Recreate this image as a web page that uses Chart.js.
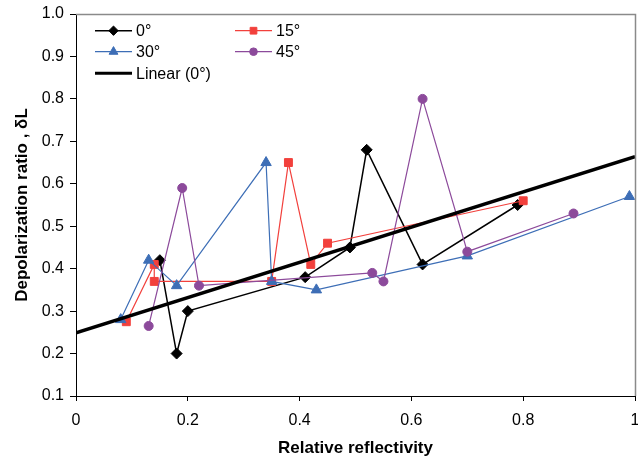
<!DOCTYPE html>
<html>
<head>
<meta charset="utf-8">
<script src="https://cdn.jsdelivr.net/npm/chart.js@4.4.1/dist/chart.umd.min.js"></script>
<style>
  html, body { margin: 0; padding: 0; background: #fff; }
  canvas { display: block; }
</style>
</head>
<body>
<canvas id="chart" width="638" height="461"></canvas>
<script>
// Axis ticks
const xTicks = [0, 0.2, 0.4, 0.6, 0.8, 1];
const yTicks = [0.1, 0.2, 0.3, 0.4, 0.5, 0.6, 0.7, 0.8, 0.9, 1.0];

// Series: relative reflectivity (x) vs depolarization ratio (y)
const x0deg  = [0.15, 0.18, 0.20, 0.41, 0.49, 0.52, 0.62, 0.79];
const y0deg  = [0.42, 0.20, 0.30, 0.38, 0.45, 0.68, 0.41, 0.55];
const x15deg = [0.09, 0.14, 0.14, 0.35, 0.38, 0.42, 0.45, 0.80];
const y15deg = [0.275, 0.41, 0.37, 0.37, 0.65, 0.41, 0.46, 0.56];
const x30deg = [0.08, 0.13, 0.18, 0.34, 0.35, 0.43, 0.70, 0.99];
const y30deg = [0.28, 0.42, 0.36, 0.65, 0.37, 0.35, 0.43, 0.57];
const x45deg = [0.13, 0.19, 0.22, 0.53, 0.55, 0.62, 0.70, 0.89];
const y45deg = [0.265, 0.59, 0.36, 0.39, 0.37, 0.80, 0.44, 0.53];

// Linear trend of the 0° series (end points)
const xTrend = [0, 1];
const yTrend = [0.249, 0.664];

const labels = ['0°', '15°', '30°', '45°', 'Linear (0°)'];

const FONT = "'Liberation Sans', Arial, sans-serif";

const pts = (xs, ys) => xs.map((x, i) => ({ x: x, y: ys[i] }));

const datasets = [
  {
    label: labels[0], data: pts(x0deg, y0deg),
    borderColor: '#000000', backgroundColor: '#000000', borderWidth: 1.5,
    pointStyle: 'rectRot', pointRadius: 5.5, pointBorderWidth: 1, order: 4
  },
  {
    label: labels[1], data: pts(x15deg, y15deg),
    borderColor: '#F2403C', backgroundColor: '#F2403C', borderWidth: 1.2,
    pointStyle: 'rect', pointRadius: 5.6, pointBorderWidth: 1, order: 3
  },
  {
    label: labels[2], data: pts(x30deg, y30deg),
    borderColor: '#3D6EB6', backgroundColor: '#3D6EB6', borderWidth: 1.2,
    pointStyle: 'triangle', pointRadius: 6, pointBorderWidth: 1, order: 2
  },
  {
    label: labels[3], data: pts(x45deg, y45deg),
    borderColor: '#8C4A9B', backgroundColor: '#8C4A9B', borderWidth: 1.2,
    pointStyle: 'circle', pointRadius: 4.5, pointBorderWidth: 1, order: 1
  },
  {
    label: labels[4], data: pts(xTrend, yTrend),
    borderColor: '#000000', backgroundColor: '#000000', borderWidth: 3.5,
    pointRadius: 0, order: 0
  }
];
datasets.forEach(d => { d.showLine = true; d.tension = 0; d.pointHoverRadius = d.pointRadius; });

// Draws the gray top/right frame and the in-plot key
const frameAndKey = {
  id: 'frameAndKey',
  afterDatasetsDraw(chart) {
    const ctx = chart.ctx;
    const a = chart.chartArea;
    ctx.save();
    ctx.strokeStyle = '#8A8A8A';
    ctx.lineWidth = 1.5;
    ctx.beginPath();
    ctx.moveTo(a.left, a.top + 0.5);
    ctx.lineTo(a.right + 0.5, a.top + 0.5);
    ctx.lineTo(a.right + 0.5, a.bottom);
    ctx.stroke();

    const entries = [
      { i: 0, x: 95,  y: 30.7 },
      { i: 1, x: 235, y: 30.7 },
      { i: 2, x: 95,  y: 51.7 },
      { i: 3, x: 235, y: 51.7 },
      { i: 4, x: 95,  y: 73.3 }
    ];
    const lineLen = 37;
    ctx.font = '16px ' + FONT;
    ctx.textBaseline = 'middle';
    ctx.textAlign = 'left';
    entries.forEach(e => {
      const ds = chart.data.datasets[e.i];
      ctx.strokeStyle = ds.borderColor;
      ctx.lineWidth = e.i === 4 ? 3 : ds.borderWidth;
      ctx.beginPath();
      ctx.moveTo(e.x, e.y);
      ctx.lineTo(e.x + lineLen, e.y);
      ctx.stroke();
      if (ds.pointRadius > 0 && Chart.helpers && Chart.helpers.drawPoint) {
        ctx.fillStyle = ds.backgroundColor;
        ctx.strokeStyle = ds.borderColor;
        ctx.lineWidth = 1;
        Chart.helpers.drawPoint(ctx, {
          pointStyle: ds.pointStyle, radius: ds.pointRadius * 0.85, rotation: 0, borderWidth: 1
        }, e.x + lineLen / 2, e.y);
      }
      ctx.fillStyle = '#000';
      ctx.fillText(ds.label, e.x + lineLen + 4, e.y + 1);
    });
    ctx.restore();
  }
};

new Chart(document.getElementById('chart'), {
  type: 'scatter',
  data: { datasets: datasets },
  options: {
    responsive: false,
    animation: false,
    devicePixelRatio: 1,
    layout: { autoPadding: false, padding: { left: 0, right: 3, top: 14, bottom: 0 } },
    plugins: { legend: { display: false }, tooltip: { enabled: false } },
    scales: {
      x: {
        type: 'linear', min: 0, max: 1,
        afterBuildTicks: s => { s.ticks = xTicks.map(v => ({ value: v })); },
        afterFit: s => { s.height = 65; s.paddingLeft = 0; s.paddingRight = 0; },
        grid: { drawOnChartArea: false, drawTicks: true, tickLength: 5, tickColor: '#000', color: '#000' },
        border: { display: true, color: '#000', width: 1 },
        ticks: {
          padding: 10, color: '#000', maxRotation: 0, autoSkip: false,
          font: { family: FONT, size: 16 },
          callback: v => String(v)
        },
        title: {
          display: true, text: 'Relative reflectivity', color: '#000',
          font: { family: FONT, size: 17, weight: 'bold' },
          padding: { top: 0, bottom: 2 }
        }
      },
      y: {
        type: 'linear', min: 0.1, max: 1.0,
        afterBuildTicks: s => { s.ticks = yTicks.map(v => ({ value: v })); },
        afterFit: s => { s.width = 76; s.paddingTop = 0; s.paddingBottom = 0; },
        grid: { drawOnChartArea: false, drawTicks: true, tickLength: 6, tickColor: '#000', color: '#000' },
        border: { display: true, color: '#000', width: 1 },
        ticks: {
          padding: 6, color: '#000', autoSkip: false,
          font: { family: FONT, size: 16 },
          callback: v => v.toFixed(1)
        },
        title: {
          display: true, text: 'Depolarization ratio , δL', color: '#000',
          font: { family: FONT, size: 17, weight: 'bold' },
          padding: { top: 12, bottom: 0 }
        }
      }
    }
  },
  plugins: [frameAndKey]
});
</script>
</body>
</html>
